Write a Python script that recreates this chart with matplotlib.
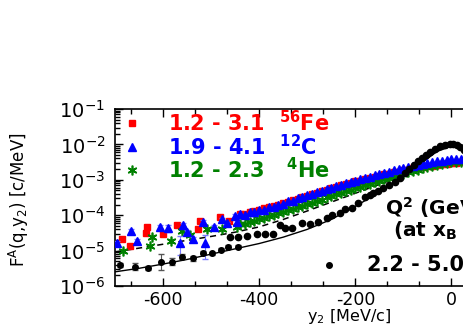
import numpy as np
import matplotlib
matplotlib.use('Agg')
import matplotlib.pyplot as plt
from matplotlib.ticker import MultipleLocator, LogLocator, NullFormatter

plt.rcParams['font.family'] = ['DejaVu Sans']
plt.rcParams['axes.unicode_minus'] = False
plt.rcParams['mathtext.default'] = 'regular'

# values, stored as log10(F)
# sparse points at large negative y2
fe_x = [-686, -669, -634, -635, -600, -572, -527, -523, -481, -462]
fe_log = [-4.68, -4.87, -4.32, -4.49, -4.53, -4.28, -4.40, -4.16, -4.04, -4.16]
fe_err = [0.06, 0.06, 0.05, 0.05, 0.06, 0.05, 0.05, 0.05, 0.04, 0.04]

c_x = [-696, -667, -655, -606, -589, -565, -558, -551, -537, -516, -513, -494, -478, -468, -450, -447]
c_log = [-4.78, -4.44, -4.72, -4.34, -4.37, -4.78, -4.28, -4.47, -4.68, -4.18, -4.79, -4.32, -4.12, -4.23, -4.02, -4.18]
c_err_lo = [0.05, 0.05, 0.05, 0.05, 0.10, 0.34, 0.05, 0.05, 0.06, 0.05, 0.46, 0.05, 0.04, 0.04, 0.04, 0.04]
c_err_hi = [0.05, 0.05, 0.05, 0.05, 0.10, 0.18, 0.05, 0.05, 0.06, 0.05, 0.24, 0.05, 0.04, 0.04, 0.04, 0.04]

he_x = [-683, -627, -624, -584, -561, -544, -509, -478, -447]
he_log = [-5.00, -4.87, -4.61, -4.72, -4.44, -4.56, -4.40, -4.40, -4.32]

# dense part near the peak (same y2 grid for the three nuclei)
y2_dense = [-440, -430, -420, -410, -400, -390, -380, -370, -360, -350,
            -340, -330, -320, -310, -300, -290, -280, -270, -260, -250,
            -240, -230, -220, -210, -200, -190, -180, -170, -160, -150,
            -140, -130, -120, -110, -100, -90, -80, -70, -60, -50,
            -40, -30, -20, -10, 0, 10, 20, 30]
fe_dense = [-3.96, -3.97, -3.92, -3.87, -3.85, -3.80, -3.78, -3.73, -3.71, -3.66,
            -3.62, -3.58, -3.54, -3.48, -3.45, -3.40, -3.36, -3.31, -3.28, -3.24,
            -3.19, -3.16, -3.11, -3.09, -3.04, -3.02, -2.97, -2.96, -2.91, -2.89,
            -2.85, -2.83, -2.79, -2.77, -2.73, -2.72, -2.68, -2.67, -2.64, -2.62,
            -2.60, -2.58, -2.56, -2.55, -2.53, -2.52, -2.50, -2.49]
c_dense = [-3.98, -3.99, -3.91, -3.92, -3.84, -3.85, -3.77, -3.77, -3.70, -3.69,
           -3.61, -3.60, -3.52, -3.50, -3.43, -3.41, -3.34, -3.32, -3.25, -3.23,
           -3.17, -3.14, -3.09, -3.07, -3.02, -2.99, -2.94, -2.92, -2.87, -2.84,
           -2.80, -2.77, -2.73, -2.70, -2.66, -2.64, -2.60, -2.58, -2.55, -2.53,
           -2.50, -2.48, -2.46, -2.44, -2.42, -2.41, -2.40, -2.39]
he_dense = [-4.26, -4.24, -4.18, -4.16, -4.10, -4.08, -4.02, -4.00, -3.94, -3.92,
            -3.86, -3.83, -3.77, -3.74, -3.68, -3.65, -3.59, -3.56, -3.50, -3.47,
            -3.41, -3.38, -3.32, -3.29, -3.24, -3.20, -3.15, -3.12, -3.07, -3.03,
            -2.99, -2.95, -2.91, -2.87, -2.83, -2.79, -2.75, -2.71, -2.67, -2.64,
            -2.61, -2.58, -2.55, -2.53, -2.51, -2.50, -2.49, -2.48]

# black set
d_x = [-689, -658, -631, -605, -582, -560, -537, -516, -499, -479, -464, -445]
d_log = [-5.41, -5.455, -5.50, -5.33, -5.31, -5.17, -5.22, -5.06, -5.08, -4.98, -4.89, -4.89]
d_err = [0.06, 0.10, 0.06, 0.22, 0.10, 0.06, 0.08, 0.05, 0.05, 0.04, 0.04, 0.04]

d_x2 = [-461, -445, -426, -405, -388, -371, -357, -346, -332, -311, -294, -277,
        -260, -249, -232, -221, -208, -194, -180, -170, -163, -152, -142, -130,
        -118, -107, -97, -88, -79, -70, -62, -53, -45, -35, -24, -14, -3, 4,
        11, 18, 25, 32, 40]
d_log2 = [-4.62, -4.62, -4.59, -4.53, -4.53, -4.53, -4.28, -4.37, -4.35, -4.21, -4.25, -4.18,
          -4.09, -3.99, -3.95, -3.83, -3.81, -3.66, -3.48, -3.43, -3.38, -3.31, -3.24, -3.15,
          -3.05, -2.94, -2.82, -2.70, -2.58, -2.48, -2.39, -2.30, -2.21, -2.13, -2.05, -2.01, -1.99, -2.00,
          -2.02, -2.08, -2.16, -2.27, -2.40]

# curves
solid_x = [-700, -650, -600, -550, -500, -450, -400, -350, -300, -250, -200, -150, -100, -60, -30, 0]
solid_log = [-5.60, -5.50, -5.38, -5.25, -5.10, -4.95, -4.80, -4.62, -4.40, -4.12, -3.75, -3.35, -2.90, -2.50, -2.20, -2.05]
dash_x = [-700, -650, -600, -550, -500, -450, -400, -350, -300, -250, -200, -150, -100, -50, 0]
dash_log = [-5.04, -4.93, -4.82, -4.71, -4.60, -4.48, -4.33, -4.12, -3.88, -3.63, -3.38, -3.13, -2.88, -2.65, -2.50]


def F(logs):
    return 10.0 ** np.asarray(logs, dtype=float)


def yerr(logs, lo, hi):
    l = np.asarray(logs, dtype=float)
    return [10 ** l - 10 ** (l - np.asarray(lo)), 10 ** (l + np.asarray(hi)) - 10 ** l]


fig = plt.figure(figsize=(4.63, 3.27), dpi=100)
ax = fig.add_axes([115 / 463, 41 / 327, 480.7 / 463, 177 / 327])

red = '#ff0000'
blue = '#0000ff'
green = '#008000'

ax.plot(solid_x, F(solid_log), color='black', lw=1.0, zorder=2)
ax.plot(dash_x, F(dash_log), color='black', lw=1.1, ls=(0, (4, 3)), zorder=2)

# sparse points with error bars
ax.errorbar(fe_x, F(fe_log), yerr=yerr(fe_log, fe_err, fe_err), fmt='s', ms=4.5,
            color=red, ecolor='#ff9999', elinewidth=0.8, capsize=2, zorder=3)
ax.errorbar(he_x, F(he_log), yerr=yerr(he_log, [0.04] * len(he_x), [0.04] * len(he_x)),
            fmt='none', ecolor='#88bb88', elinewidth=0.8, capsize=2, zorder=3)
ax.plot(he_x, F(he_log), ls='none', marker=(6, 2, 0), ms=7, mew=1.2, color=green, zorder=4)
ax.errorbar(c_x, F(c_log), yerr=yerr(c_log, c_err_lo, c_err_hi), fmt='^', ms=5.5,
            color=blue, ecolor='#7777ff', elinewidth=0.8, capsize=2, zorder=4)

# dense bands
ax.plot(y2_dense, F(fe_dense), ls='none', marker='s', ms=4.5, color=red, zorder=3)
ax.plot(y2_dense, F(he_dense), ls='none', marker=(6, 2, 0), ms=7, mew=1.2, color=green, zorder=4)
ax.plot(y2_dense, F(c_dense), ls='none', marker='^', ms=5.5, color=blue, zorder=4)

ax.errorbar(d_x, F(d_log), yerr=yerr(d_log, d_err, d_err), fmt='o', ms=4,
            color='black', ecolor='#555555', elinewidth=0.8, capsize=2, zorder=5)
ax.plot(d_x2, F(d_log2), ls='none', marker='o', ms=4.5, color='black', zorder=5)

ax.set_xlim(-700, 300)
ax.set_yscale('log')
ax.set_ylim(1e-6, 1e-1)

ax.xaxis.set_major_locator(MultipleLocator(200))
ax.xaxis.set_minor_locator(MultipleLocator(200 / 3))
ax.yaxis.set_major_locator(LogLocator(base=10, numticks=10))
ax.yaxis.set_minor_locator(LogLocator(base=10, subs=np.arange(2, 10), numticks=10))
ax.yaxis.set_minor_formatter(NullFormatter())
ax.tick_params(which='both', direction='in', top=True, right=False, width=1.0)
ax.tick_params(which='major', length=6)
ax.tick_params(which='minor', length=3.5)
ax.tick_params(axis='x', labelsize=12.5, pad=3.5)
ax.tick_params(axis='y', labelsize=14, pad=7)
for side in ['left', 'bottom', 'top']:
    ax.spines[side].set_linewidth(1.2)
ax.spines['right'].set_visible(False)

ax.set_xlabel('y$_2$ [MeV/c]', fontsize=11.5)
ax.xaxis.set_label_coords(0.487, -0.121)
ax.set_ylabel('F$^A$(q,y$_2$) [c/MeV]', fontsize=12)
ax.yaxis.set_label_coords(-0.175, 0.49)

# legend-style labels
T = ax.transAxes
ax.plot([0.0354], [0.921], marker='s', ms=4.5, color=red, transform=T, clip_on=False)
ax.plot([0.0354], [0.785], marker='^', ms=5.5, color=blue, transform=T, clip_on=False)
ax.plot([0.0354], [0.655], marker=(6, 2, 0), ms=7, mew=1.2, color=green, transform=T, clip_on=False)
ax.text(0.110, 0.921, '1.2 - 3.1  $^{56}$Fe', color=red, fontsize=15, fontweight='bold',
        va='center', transform=T)
ax.text(0.110, 0.785, '1.9 - 4.1  $^{12}$C', color=blue, fontsize=15, fontweight='bold',
        va='center', transform=T)
ax.text(0.110, 0.655, '1.2 - 2.3   $^{4}$He', color=green, fontsize=15, fontweight='bold',
        va='center', transform=T)

ax.text(0.562, 0.445, 'Q$^2$ (GeV$^2$)', fontsize=14.5, fontweight='bold', va='center', transform=T)
ax.text(0.578, 0.312, '(at x$_B$ = 1)', fontsize=14.5, fontweight='bold', va='center', transform=T)
ax.plot([0.445], [0.119], marker='o', ms=4, color='black', transform=T)
ax.text(0.524, 0.119, '2.2 - 5.0', fontsize=15, fontweight='bold', va='center', transform=T)

fig.savefig('out.png', dpi=100)
